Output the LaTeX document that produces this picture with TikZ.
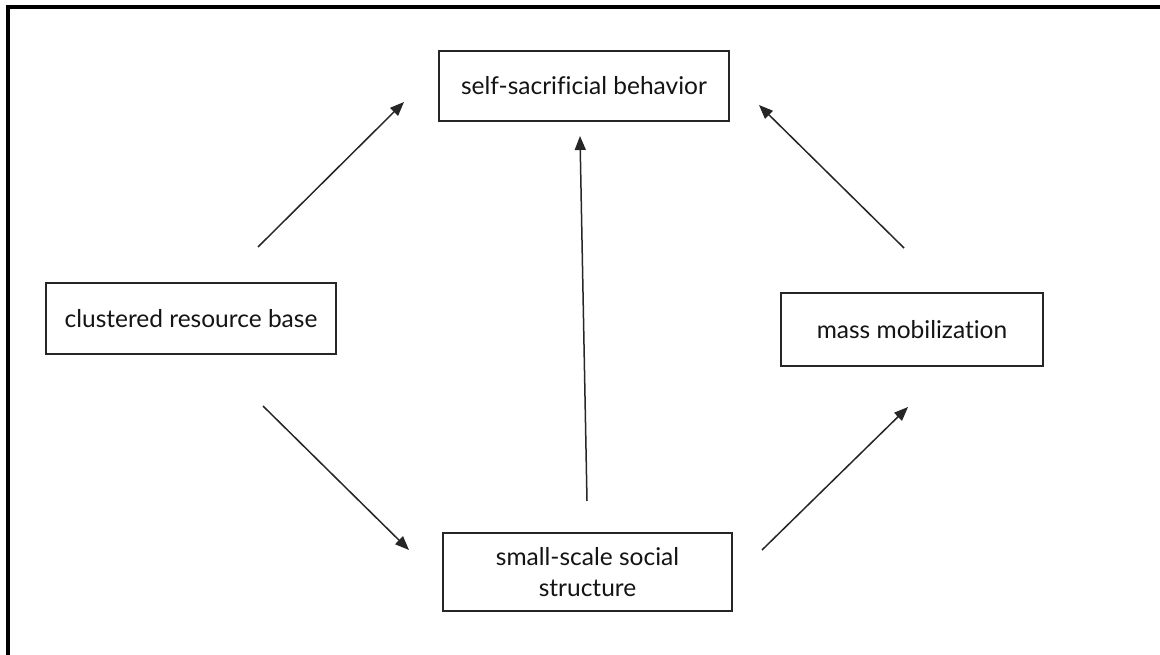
\documentclass[tikz,border=0pt]{standalone}
\usepackage{fontspec}
\setmainfont{Lato}[Ligatures={NoCommon,NoRare,NoContextual}]
\usetikzlibrary{arrows.meta}
\begin{document}
\begin{tikzpicture}[x=1pt,y=-1pt,
  box/.style={draw=black!85,line width=1.3pt,fill=white,inner sep=0pt,
    align=center,font=\fontsize{24.5}{31}\selectfont,text=black!92},
  conn/.style={line width=1.5pt,draw=black!85,-{Triangle[length=14pt,width=11pt]}},
  frameline/.style={line width=4pt,black}]
\useasboundingbox (0,0) rectangle (1160,655);
\draw[frameline] (8,7) -- (1162,7);
\draw[frameline] (8,5) -- (8,657);
\node[box,minimum width=290pt,minimum height=70pt] (self) at (584,86) {self-sacrificial behavior};
\node[box,minimum width=290pt,minimum height=71pt] (clust) at (191,318.5) {clustered resource base};
\node[box,minimum width=262pt,minimum height=73pt] (mass) at (912,329.5) {mass mobilization};
\node[box,minimum width=289pt,minimum height=78pt] (small) at (587.5,572) {small-scale social\\structure};
\coordinate (a1s) at (258,247); \coordinate (a1e) at (404,102);
\coordinate (a2s) at (904,248); \coordinate (a2e) at (759,105);
\coordinate (a3s) at (587,501); \coordinate (a3e) at (580,136);
\coordinate (a4s) at (263,406); \coordinate (a4e) at (409,550);
\coordinate (a5s) at (762,550); \coordinate (a5e) at (908,407);
\draw[conn] (a1s) -- (a1e);
\draw[conn] (a2s) -- (a2e);
\draw[conn] (a3s) -- (a3e);
\draw[conn] (a4s) -- (a4e);
\draw[conn] (a5s) -- (a5e);
\end{tikzpicture}
\end{document}
